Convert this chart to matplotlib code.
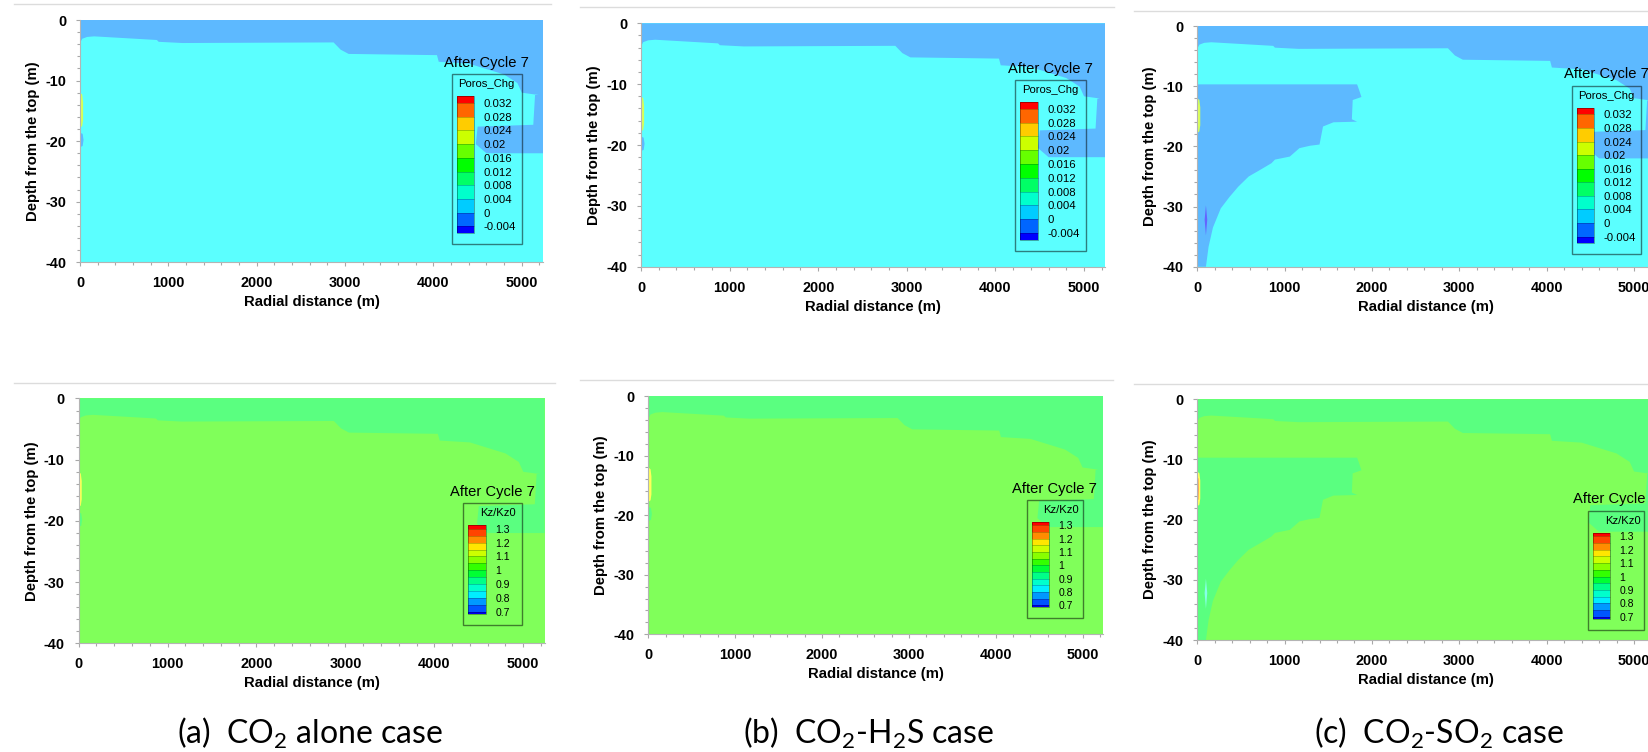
import matplotlib as mpl
import matplotlib.pyplot as plt
from matplotlib.colors import ListedColormap, BoundaryNorm
from matplotlib.patches import Rectangle
from matplotlib.lines import Line2D
from matplotlib.ticker import MultipleLocator

plt.rcParams['font.family'] = ['Liberation Sans', 'DejaVu Sans']
plt.rcParams['axes.unicode_minus'] = False
plt.rcParams['mathtext.fontset'] = 'custom'
plt.rcParams['mathtext.rm'] = 'Lato'

W, H = 1648, 752

# ---- data ----
x_max = 5240
x_ticks = [0, 1000, 2000, 3000, 4000, 5000]
z_ticks = [0, -10, -20, -30, -40]

captions = [r'(a)  CO$_\mathregular{2}$ alone case',
            r'(b)  CO$_\mathregular{2}$-H$_\mathregular{2}$S case',
            r'(c)  CO$_\mathregular{2}$-SO$_\mathregular{2}$ case']

# legend of porosity change
poros_bounds = [-0.006, -0.004, 0, 0.004, 0.008, 0.012, 0.016, 0.02, 0.024, 0.028, 0.032, 0.034]
poros_colors = ['#0000ff', '#0066ff', '#00ccff', '#00ffcc', '#00ff66', '#00ff00',
                '#66ff00', '#ccff00', '#ffcc00', '#ff6600', '#ff0000']
poros_ticks = [-0.004, 0, 0.004, 0.008, 0.012, 0.016, 0.02, 0.024, 0.028, 0.032]
poros_labels = ['-0.004', '0', '0.004', '0.008', '0.012', '0.016', '0.02', '0.024', '0.028', '0.032']

# legend of permeability ratio
kz_bounds = [0.685, 0.70, 0.75, 0.80, 0.85, 0.90, 0.95, 1.00, 1.05, 1.10, 1.15, 1.20, 1.25, 1.30, 1.325]
kz_colors = ['#0000ee', '#0055ff', '#0099ff', '#00eeff', '#00ffcc', '#00ff88', '#00ff33',
             '#33ff00', '#88ff00', '#ccff00', '#ffe600', '#ff8c00', '#ff4400', '#ff0000']
kz_ticks = [0.7, 0.8, 0.9, 1.0, 1.1, 1.2, 1.3]
kz_labels = ['0.7', '0.8', '0.9', '1', '1.1', '1.2', '1.3']

# outline of the upper layer (radial distance m, depth m)
layer_r = [0, 25, 80, 160, 870, 890, 1160, 2870, 2950, 3040, 4040, 4060, 4400, 4800, 4950,
           5000, 5150, 5240]
layer_d = [-3.8, -3.1, -2.8, -2.7, -3.3, -3.6, -3.8, -3.7, -4.9, -5.6, -5.8, -6.9, -7.2, -9.0,
           -10.4, -12.0, -12.3, -12.3]

# pocket at the outer edge
pocket_r = [5240, 5150, 5130, 4500, 4480, 4600, 5240]
pocket_d = [-12.0, -12.4, -17.3, -17.6, -20.5, -22.0, -22.0]

# small spot below the well screen
spot_r = [0, 30, 40, 30, 0]
spot_d = [-18.6, -18.8, -19.8, -20.8, -21.0]

# well zone
well_r = [0, 25, 35, 35, 25, 0]
well_d = [-12.0, -12.3, -13.5, -16.5, -17.5, -17.8]
core_r = [0, 15, 18, 15, 0]
core_d = [-12.8, -13.2, -15.0, -16.6, -17.0]

# near-well zone of the CO2-SO2 case
so2_r = [0, 1830, 1850, 1880, 1780, 1770, 1830, 1560, 1440, 1400, 1290, 1170, 1060, 890, 850,
         710, 590, 470, 370, 270, 180, 130, 100, 0]
so2_d = [-9.7, -9.7, -10.5, -11.8, -12.3, -15.5, -15.9, -16.0, -16.7, -19.7, -19.9, -20.3, -21.7,
         -22.2, -22.8, -24.0, -25.0, -26.7, -28.4, -30.3, -33.5, -36.7, -40, -40]
so2_spot_r = [85, 100, 115, 100]
so2_spot_d = [-32.2, -29.8, -32.2, -34.8]

# fill colours of the two rows
poros_fill = {'field': '#5bffff', 'layer': '#5db9ff', 'well': '#d2ff5a', 'core': '#e8ff5a',
              'spot': '#6464ff'}
kz_fill = {'field': '#80ff5a', 'layer': '#5aff80', 'well': '#ffff5a', 'core': '#ff8a5a',
           'spot': '#86ffe8'}

# panel frames in pixels (left, top, right, bottom) and legend boxes
panels_top = [(80, 20, 543, 262.3), (641, 23.3, 1105.3, 266.7), (1197.2, 26, 1655, 266.7)]
panels_bot = [(78.6, 398.3, 544.6, 643.3), (648.4, 396, 1103.4, 634.3), (1197.2, 399.3, 1655, 640)]
legend_top = [(451.7, 74, 521.7, 244.3), (1015.4, 80, 1085.7, 250.7), (1571.7, 85.7, 1641, 254.3)]
legend_bot = [(463.3, 503.3, 522, 625), (1026.5, 500, 1083, 618.3), (1587.6, 510.7, 1644.2, 630)]
caption_x = [310, 869, 1439]


def rect(l, t, r, b):
    return [l / W, 1 - b / H, (r - l) / W, (b - t) / H]


fig = plt.figure(figsize=(W / 100, H / 100), dpi=100)
fig.patch.set_facecolor('white')

# faint lines left over from the screenshots
grey = '#dcdcdc'
for y0, x0, x1 in [(4, 14, 551), (6.7, 580, 1114), (10.7, 1134, 1648),
                   (382.7, 14, 555), (380, 580, 1113), (384, 1134, 1648)]:
    fig.add_artist(Line2D([x0 / W, x1 / W], [1 - y0 / H, 1 - y0 / H],
                          transform=fig.transFigure, color=grey, lw=1))


def draw_field(ax, fill, case, row):
    ax.axvspan(0, x_max, color=fill['field'], lw=0)
    ax.fill(layer_r + [x_max, 0], layer_d + [0, 0], color=fill['layer'], lw=0)
    ax.fill(pocket_r, pocket_d, color=fill['layer'], lw=0)
    ax.fill(spot_r, spot_d, color=fill['layer'], lw=0)
    if case == 2:
        ax.fill(so2_r, so2_d, color=fill['layer'], lw=0)
        ax.fill(so2_spot_r, so2_spot_d, color=fill['spot'], lw=0)
    ax.fill(well_r, well_d, color=fill['well'], lw=0)
    if case == 2 or row == 0:
        ax.fill(core_r, core_d, color=fill['core'], lw=0)


def style_axes(ax, pos):
    l, t, r, b = pos
    ax.set_xlim(0, x_max)
    ax.set_ylim(-40, 0)
    ax.set_xticks(x_ticks)
    ax.set_yticks(z_ticks)
    ax.xaxis.set_minor_locator(MultipleLocator(200))
    ax.yaxis.set_minor_locator(MultipleLocator(2))
    for s in ['top', 'right']:
        ax.spines[s].set_visible(False)
    for s in ['left', 'bottom']:
        ax.spines[s].set_color('#b4b4b4')
        ax.spines[s].set_linewidth(0.8)
    ax.tick_params(which='both', direction='out', color='#a8a8a8', width=0.8)
    ax.tick_params(which='major', length=3, pad=7, labelsize=10.4)
    ax.tick_params(which='minor', length=2.5)
    for lab in ax.get_xticklabels() + ax.get_yticklabels():
        lab.set_fontweight('bold')
    ax.set_xlabel('Radial distance (m)', fontsize=10.7, fontweight='bold')
    ax.set_ylabel('Depth from the top (m)', fontsize=10.7, fontweight='bold')
    ax.xaxis.set_label_coords(0.5, -33 / (b - t))
    ax.yaxis.set_label_coords(-40 / (r - l), 0.5)


def add_legend(box, name, bounds, colors, ticks, labels, labsize):
    l, t, r, b = box
    fig.text((l + r) / 2 / W, 1 - (t - 11.5) / H, 'After Cycle 7',
             ha='center', va='center', fontsize=10.6)
    fig.add_artist(Rectangle((l / W, 1 - b / H), (r - l) / W, (b - t) / H,
                             transform=fig.transFigure, fill=False,
                             ec=(0, 0, 0, 0.5), lw=1))
    fig.text((l + 35) / W, 1 - (t + 10) / H, name, ha='center', va='center', fontsize=8.1)
    cax = fig.add_axes(rect(l + 5, t + 22, l + 22.3, b - 11))
    cb = mpl.colorbar.ColorbarBase(cax, cmap=ListedColormap(colors),
                                   norm=BoundaryNorm(bounds, len(colors)),
                                   boundaries=bounds, ticks=ticks,
                                   spacing='proportional', drawedges=True)
    cb.set_ticklabels(labels)
    cb.minorticks_off()
    cb.outline.set_edgecolor((0, 0, 0, 0.4))
    cb.outline.set_linewidth(0.6)
    cb.dividers.set_color((0, 0, 0, 0.3))
    cb.dividers.set_linewidth(0.5)
    cax.tick_params(which='both', length=0, pad=7, labelsize=labsize)


for i in range(3):
    ax = fig.add_axes(rect(*panels_top[i]))
    draw_field(ax, poros_fill, i, 0)
    style_axes(ax, panels_top[i])
    add_legend(legend_top[i], 'Poros_Chg', poros_bounds, poros_colors,
               poros_ticks, poros_labels, 8.2)

    ax = fig.add_axes(rect(*panels_bot[i]))
    draw_field(ax, kz_fill, i, 1)
    style_axes(ax, panels_bot[i])
    add_legend(legend_bot[i], 'Kz/Kz0', kz_bounds, kz_colors,
               kz_ticks, kz_labels, 7.5)

    fig.text(caption_x[i] / W, 1 - 733 / H, captions[i], ha='center', va='center',
             fontsize=23, family='Lato')

fig.savefig('out.png', dpi=100)
